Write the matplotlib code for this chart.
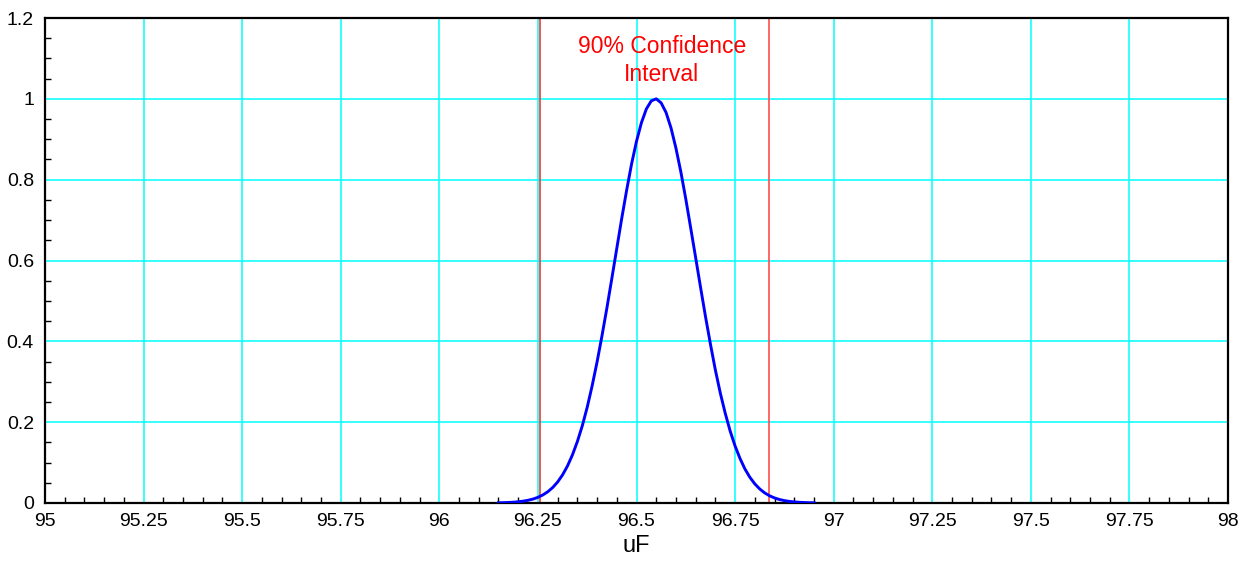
import matplotlib.pyplot as plt
from matplotlib.ticker import MultipleLocator, FormatStrFormatter

plt.rcParams['font.family'] = ['Liberation Sans', 'DejaVu Sans']

# curve (uF vs normalised density)
uf = [96.1500, 96.1625, 96.1750, 96.1875, 96.2000, 96.2125, 96.2250, 96.2375,
      96.2500, 96.2625, 96.2750, 96.2875, 96.3000, 96.3125, 96.3250, 96.3375,
      96.3500, 96.3625, 96.3750, 96.3875, 96.4000, 96.4125, 96.4250, 96.4375,
      96.4500, 96.4625, 96.4750, 96.4875, 96.5000, 96.5125, 96.5250, 96.5375,
      96.5500, 96.5625, 96.5750, 96.5875, 96.6000, 96.6125, 96.6250, 96.6375,
      96.6500, 96.6625, 96.6750, 96.6875, 96.7000, 96.7125, 96.7250, 96.7375,
      96.7500, 96.7625, 96.7750, 96.7875, 96.8000, 96.8125, 96.8250, 96.8375,
      96.8500, 96.8625, 96.8750, 96.8875, 96.9000, 96.9125, 96.9250, 96.9375,
      96.9500]
dens = [0.0005, 0.0008, 0.0013, 0.0019, 0.0030, 0.0045, 0.0067, 0.0097,
        0.0140, 0.0199, 0.0278, 0.0383, 0.0520, 0.0696, 0.0916, 0.119,
        0.152, 0.191, 0.237, 0.290, 0.349, 0.414, 0.483, 0.556,
        0.630, 0.704, 0.774, 0.839, 0.895, 0.941, 0.975, 0.995,
        1.000, 0.990, 0.966, 0.928, 0.878, 0.819, 0.752, 0.680,
        0.607, 0.533, 0.461, 0.393, 0.329, 0.272, 0.222, 0.178,
        0.141, 0.110, 0.0841, 0.0635, 0.0473, 0.0347, 0.0250, 0.0178,
        0.0125, 0.0086, 0.0059, 0.0039, 0.0026, 0.0017, 0.0011, 0.0007,
        0.0004]

ci_low = 96.254
ci_high = 96.835
ci_label = "90% Confidence\nInterval"

fig = plt.figure(figsize=(12.51, 5.63), dpi=100)
ax = fig.add_axes([0.036, 0.1066, 0.9456, 0.8614])

ax.set_xlim(95, 98)
ax.set_ylim(0, 1.2)

ax.xaxis.set_major_locator(MultipleLocator(0.25))
ax.xaxis.set_minor_locator(MultipleLocator(0.05))
ax.yaxis.set_major_locator(MultipleLocator(0.2))
ax.yaxis.set_minor_locator(MultipleLocator(0.05))
ax.xaxis.set_major_formatter(FormatStrFormatter('%g'))
ax.yaxis.set_major_formatter(FormatStrFormatter('%g'))

ax.grid(True, which='major', color='#00ffff', linewidth=1.1, zorder=1)
ax.set_axisbelow(True)

ax.tick_params(which='major', length=0, labelsize=14, pad=7)
ax.tick_params(which='minor', direction='in', length=4.5, width=1,
               top=False, right=False)
ax.tick_params(axis='y', which='major', pad=8)

for s in ax.spines.values():
    s.set_linewidth(1.6)

ax.axvline(ci_low, color='#ff3333', linewidth=1.2, zorder=2)
ax.axvline(ci_high, color='#ff4d4d', linewidth=1.2, zorder=2)

ax.plot(uf, dens, color='#0000ff', linewidth=2.1, zorder=3)

ax.text(96.564, 1.095, ci_label, color='#ff0000', fontsize=16.5,
        ha='center', va='center', linespacing=1.25)

ax.set_xlabel('uF', fontsize=17, labelpad=4)

fig.savefig('out.png', dpi=100)
